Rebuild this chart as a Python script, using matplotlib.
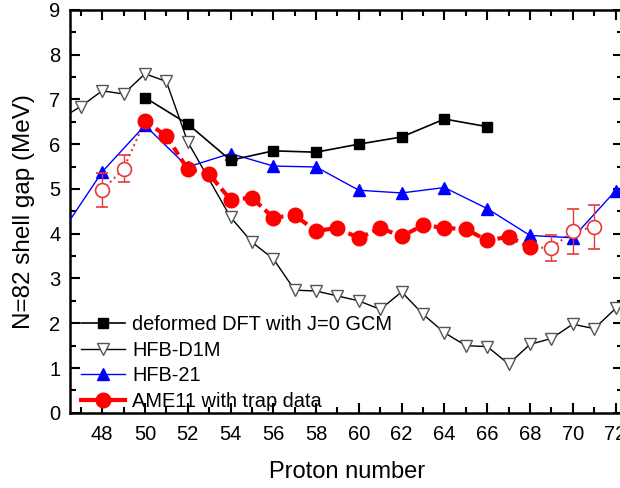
import numpy as np
import matplotlib
matplotlib.use("Agg")
import matplotlib.pyplot as plt
from matplotlib.lines import Line2D

plt.rcParams['font.family'] = ['Liberation Sans', 'DejaVu Sans']

# deformed DFT with J=0 GCM
dft_z = [50, 52, 54, 56, 58, 60, 62, 64, 66]
dft_gap = [7.04, 6.45, 5.64, 5.85, 5.82, 6.00, 6.16, 6.56, 6.39]

# HFB-D1M
d1m_z = [46, 47, 48, 49, 50, 51, 52, 54, 55, 56, 57, 58, 59, 60, 61, 62, 63, 64,
         65, 66, 67, 68, 69, 70, 71, 72, 73]
d1m_gap = [6.55, 6.84, 7.19, 7.12, 7.57, 7.40, 6.05, 4.37, 3.81, 3.44, 2.74, 2.72,
           2.61, 2.50, 2.31, 2.70, 2.20, 1.79, 1.50, 1.48, 1.09, 1.53, 1.66, 1.98,
           1.88, 2.33, 2.75]

# HFB-21
hfb21_z = [46, 48, 50, 52, 54, 56, 58, 60, 62, 64, 66, 68, 70, 72, 73]
hfb21_gap = [3.95, 5.38, 6.42, 5.49, 5.79, 5.51, 5.49, 4.97, 4.91, 5.03, 4.56,
             3.96, 3.91, 4.96, 5.2]

# AME11 with trap data
ame_z = [50, 51, 52, 53, 54, 55, 56, 57, 58, 59, 60, 61, 62, 63, 64, 65, 66, 67, 68]
ame_gap = [6.52, 6.18, 5.44, 5.33, 4.76, 4.80, 4.36, 4.41, 4.06, 4.13, 3.90, 4.13,
           3.94, 4.19, 4.13, 4.10, 3.85, 3.93, 3.70]

# extrapolated points (open circles with errors)
ext_lo_z = [48, 49]
ext_lo_gap = [4.97, 5.45]
ext_lo_err = [0.38, 0.30]
ext_hi_z = [69, 70, 71]
ext_hi_gap = [3.68, 4.05, 4.15]
ext_hi_err = [0.30, 0.50, 0.50]

fig = plt.figure(figsize=(6.2, 4.88), dpi=100)
ax = fig.add_axes([0.113, 0.154, 0.892, 0.826])

red = '#ff0000'
light_red = '#e8383c'
blue = '#0000ff'

# dotted links to the extrapolated points
ax.plot(ext_lo_z + [ame_z[0]], ext_lo_gap + [ame_gap[0]], color=light_red, ls=':', lw=1.5, zorder=2)
ax.plot([ame_z[-1]] + ext_hi_z, [ame_gap[-1]] + ext_hi_gap, color=light_red, ls=':', lw=1.5, zorder=2)

ax.plot(d1m_z, d1m_gap, color='black', lw=1, marker='v', ms=9, mfc='white',
        mec='#555555', mew=1, zorder=3)
ax.plot(hfb21_z, hfb21_gap, color=blue, lw=1, marker='^', ms=9, zorder=4)
ax.plot(dft_z, dft_gap, color='black', lw=1.2, marker='s', ms=6.5, zorder=5)
ax.plot(ame_z, ame_gap, color=red, lw=3, ls=(0, (2, 1.2)), marker='o', ms=10.5, zorder=6)

ax.errorbar(ext_lo_z, ext_lo_gap, yerr=ext_lo_err, fmt='o', ms=10, mfc='white',
            mec=light_red, mew=1.2, ecolor=light_red, elinewidth=1, capsize=4, zorder=5)
ax.errorbar(ext_hi_z, ext_hi_gap, yerr=ext_hi_err, fmt='o', ms=10, mfc='white',
            mec=light_red, mew=1.2, ecolor=light_red, elinewidth=1, capsize=4, zorder=5)

ax.set_xlim(46.5, 72.35)
ax.set_ylim(0, 9)
ax.set_xticks(np.arange(48, 73, 2))
ax.set_xticks(np.arange(47, 73, 1), minor=True)
ax.set_yticks(np.arange(0, 10, 1))
ax.set_yticks(np.arange(0.5, 9, 1), minor=True)
ax.tick_params(which='both', direction='in', top=True, right=True, width=1.5,
               labelsize=14.5)
ax.tick_params(axis='x', pad=9)
ax.tick_params(axis='y', pad=7)
ax.tick_params(which='major', length=7)
ax.tick_params(which='minor', length=4)
for s in ax.spines.values():
    s.set_linewidth(1.8)

ax.set_xlabel('Proton number', fontsize=17, labelpad=12)
ax.set_ylabel('N=82 shell gap (MeV)', fontsize=17.5, labelpad=10)

handles = [
    Line2D([], [], color='black', lw=1.2, marker='s', ms=6.5),
    Line2D([], [], color='black', lw=1, marker='v', ms=9, mfc='white', mec='#555555'),
    Line2D([], [], color=blue, lw=1, marker='^', ms=9),
    Line2D([], [], color=red, lw=3, marker='o', ms=10.5),
]
labels = ['deformed DFT with J=0 GCM', 'HFB-D1M', 'HFB-21', 'AME11 with trap data']
ax.legend(handles, labels, loc='lower left', bbox_to_anchor=(0.02, 0.005),
          frameon=False, fontsize=14.4, handlelength=2.2, handletextpad=0.35,
          labelspacing=0.33, borderpad=0.0, borderaxespad=0.0)

fig.savefig('out.png', dpi=100)
